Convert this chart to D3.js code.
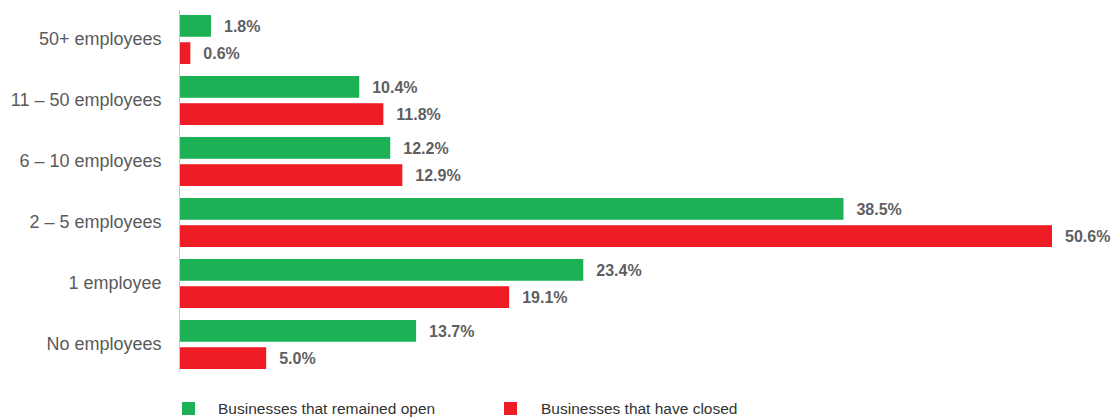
<!DOCTYPE html>
<html><head><meta charset="utf-8">
<script src="https://cdn.jsdelivr.net/npm/d3@7"></script>
<style>body{margin:0;background:#fff}svg{display:block}</style>
</head><body>
<svg id="chart" width="1115" height="418"></svg>
<script>
const categories = ["50+ employees","11 – 50 employees","6 – 10 employees","2 – 5 employees","1 employee","No employees"];
const seriesNames = ["Businesses that remained open","Businesses that have closed"];
const openValues = [1.8,10.4,12.2,38.5,23.4,13.7];
const closedValues = [0.6,11.8,12.9,50.6,19.1,5.0];
const colors = ["#1db155","#ee1c25"];

const svg = d3.select("#chart");
const font = "'Liberation Sans', Arial, sans-serif";
const x = d3.scaleLinear().domain([0,50.6]).range([180,1052]);
const y = d3.scaleBand().domain(categories).range([9,375]);
const sub = d3.scaleBand().domain([0,1]).range([6,55]).paddingInner(0.2);

const data = categories.map((c,i)=>({cat:c, vals:[openValues[i],closedValues[i]]}));

const g = svg.append("g");
const groups = g.selectAll("g.grp").data(data).join("g").attr("class","grp")
  .attr("transform",d=>`translate(0,${y(d.cat)})`);
groups.selectAll("rect").data(d=>d.vals.map((v,k)=>({v,k}))).join("rect")
  .attr("x",x(0)).attr("y",d=>sub(d.k)).attr("width",d=>x(d.v)-x(0))
  .attr("height",sub.bandwidth()).attr("fill",d=>colors[d.k]);
groups.selectAll("text.val").data(d=>d.vals.map((v,k)=>({v,k}))).join("text")
  .attr("class","val").attr("x",d=>x(d.v)+13).attr("y",d=>sub(d.k)+sub.bandwidth()/2)
  .attr("dy","0.36em").attr("font-family",font).attr("font-size",16).attr("font-weight","bold")
  .attr("fill","#5f5f5f").text(d=>d.v.toFixed(1)+"%");

// axis
const yAxis = d3.axisLeft(y).tickSize(0).tickPadding(18);
const ax = svg.append("g").attr("transform","translate(179.5,0)").call(yAxis);
ax.select(".domain").attr("stroke","#c8c8c8").attr("stroke-width",1).attr("d","M0,10V372");
ax.selectAll("text").attr("font-family",font).attr("font-size",18).attr("fill","#5a5a5a");

// legend
const legX = [182,504];
const leg = svg.selectAll("g.leg").data(seriesNames).join("g").attr("class","leg")
  .attr("transform",(d,i)=>`translate(${legX[i]},402)`);
leg.append("rect").attr("width",13).attr("height",13).attr("fill",(d,i)=>colors[i]);
leg.append("text").attr("x",(d,i)=>i===0?36:37).attr("y",6.5).attr("dy","0.35em")
  .attr("font-family",font).attr("font-size",15.5).attr("fill","#333").text(d=>d);
</script>
</body></html>
